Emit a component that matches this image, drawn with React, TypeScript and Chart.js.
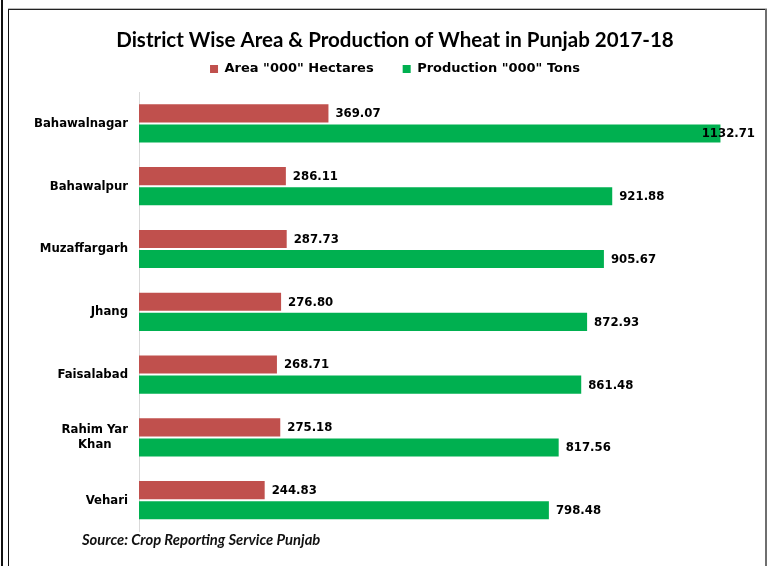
import React, { useEffect, useRef } from 'react';
import { Chart, registerables } from 'chart.js';

Chart.register(...registerables);

const districts: (string | string[])[] = [
  'Bahawalnagar',
  'Bahawalpur',
  'Muzaffargarh',
  'Jhang',
  'Faisalabad',
  ['Rahim Yar', 'Khan'],
  'Vehari',
];
const areaValues = [369.07, 286.11, 287.73, 276.8, 268.71, 275.18, 244.83];
const productionValues = [1132.71, 921.88, 905.67, 872.93, 861.48, 817.56, 798.48];
const seriesLabels = ['Area "000" Hectares', 'Production "000" Tons'];
const titleText = 'District Wise Area & Production of Wheat in Punjab 2017-18';
const sourceText = 'Source: Crop Reporting Service Punjab';
const axisMin = 0;
const axisMax = 1200;

const RED = '#C0504D';
const GREEN = '#00B050';
const condensedBold = "bold 13px 'DejaVu Sans Condensed', 'DejaVu Sans', sans-serif";

const tickLabelsPlugin = {
  id: 'tickLabels',
  afterDraw(chart: any) {
    const ctx = chart.ctx;
    const yScale = chart.scales.y;
    ctx.save();
    ctx.font = condensedBold;
    ctx.fillStyle = '#000';
    ctx.textBaseline = 'middle';
    ctx.textAlign = 'center';
    const right = chart.chartArea.left - 11;
    districts.forEach((lab, i) => {
      const lines = Array.isArray(lab) ? lab : [lab];
      const w = Math.max(...lines.map((l) => ctx.measureText(l).width));
      const cx = right - w / 2;
      const py = yScale.getPixelForValue(i);
      const lh = 15;
      lines.forEach((l, j) => {
        ctx.fillText(l, cx, py + (j - (lines.length - 1) / 2) * lh);
      });
    });
    ctx.restore();
  },
};

const dataLabelsPlugin = {
  id: 'dataLabels',
  afterDatasetsDraw(chart: any) {
    const ctx = chart.ctx;
    ctx.save();
    ctx.font = condensedBold;
    ctx.fillStyle = '#000';
    ctx.textBaseline = 'middle';
    ctx.textAlign = 'left';
    chart.data.datasets.forEach((ds: any, di: number) => {
      const meta = chart.getDatasetMeta(di);
      meta.data.forEach((el: any, i: number) => {
        const txt = Number(ds.data[i]).toFixed(2);
        const w = ctx.measureText(txt).width;
        let x = el.x + 7;
        if (x + w > chart.chartArea.right) x = chart.chartArea.right - w;
        ctx.fillText(txt, x, el.y + 0.5);
      });
    });
    ctx.restore();
  },
};

const sourcePlugin = {
  id: 'sourceNote',
  afterDraw(chart: any) {
    const ctx = chart.ctx;
    ctx.save();
    ctx.font = "italic bold 14.8px Lato, 'DejaVu Sans', sans-serif";
    ctx.fillStyle = '#111';
    ctx.textBaseline = 'alphabetic';
    ctx.textAlign = 'left';
    ctx.fillText(sourceText, 82, 545);
    ctx.restore();
  },
};

export default function App() {
  const ref = useRef<HTMLCanvasElement | null>(null);

  useEffect(() => {
    if (!ref.current) return;
    const chart = new Chart(ref.current, {
      type: 'bar',
      data: {
        labels: districts.map((d) => (Array.isArray(d) ? d.join(' ') : d)),
        datasets: [
          {
            label: seriesLabels[0],
            data: areaValues,
            backgroundColor: RED,
            barPercentage: 0.9,
            categoryPercentage: 0.64,
          },
          {
            label: seriesLabels[1],
            data: productionValues,
            backgroundColor: GREEN,
            barPercentage: 0.9,
            categoryPercentage: 0.64,
          },
        ],
      },
      options: {
        indexAxis: 'y',
        responsive: false,
        animation: false,
        layout: { padding: { left: 35, right: 12, top: 0, bottom: 34.4 } },
        scales: {
          x: {
            position: 'top',
            min: axisMin,
            max: axisMax,
            ticks: { display: false },
            grid: { display: false },
            border: { display: false },
            afterFit: (s: any) => {
              s.height = 6.5;
            },
          },
          y: {
            ticks: { display: false },
            grid: { display: false },
            border: { color: '#d9d9d9', width: 1 },
            afterFit: (s: any) => {
              s.width = 104;
            },
          },
        },
        plugins: {
          title: {
            display: true,
            text: titleText,
            color: '#000',
            font: { family: 'Lato', size: 20.5, weight: 'bold' },
            padding: { top: 27.7, bottom: -18.8 },
          },
          legend: {
            labels: {
              usePointStyle: true,
              pointStyle: 'rect',
              boxWidth: 8,
              boxHeight: 8,
              padding: 29,
              color: '#000',
              font: { family: "'DejaVu Sans', sans-serif", size: 13, weight: 'bold' },
            },
          },
          tooltip: { enabled: false },
        },
      } as any,
      plugins: [tickLabelsPlugin, dataLabelsPlugin, sourcePlugin],
    });
    return () => chart.destroy();
  }, []);

  return (
    <div
      style={{
        position: 'fixed',
        left: 0,
        top: 0,
        width: 767,
        height: 566,
        background: '#fff',
        overflow: 'hidden',
      }}
    >
      <canvas ref={ref} width={767} height={566} style={{ position: 'absolute', left: 0, top: 0 }} />
      <div style={{ position: 'absolute', left: 1, top: 0, width: 2, height: 566, background: '#111' }} />
      <div style={{ position: 'absolute', left: 8, top: 9, width: 1, height: 557, background: '#111' }} />
      <div style={{ position: 'absolute', left: 8, top: 8, width: 759, height: 1, background: '#bbb' }} />
      <div style={{ position: 'absolute', left: 8, top: 9, width: 759, height: 1, background: '#222' }} />
      <div style={{ position: 'absolute', left: 765, top: 9, width: 2, height: 557, background: '#6f6f6f' }} />
    </div>
  );
}
